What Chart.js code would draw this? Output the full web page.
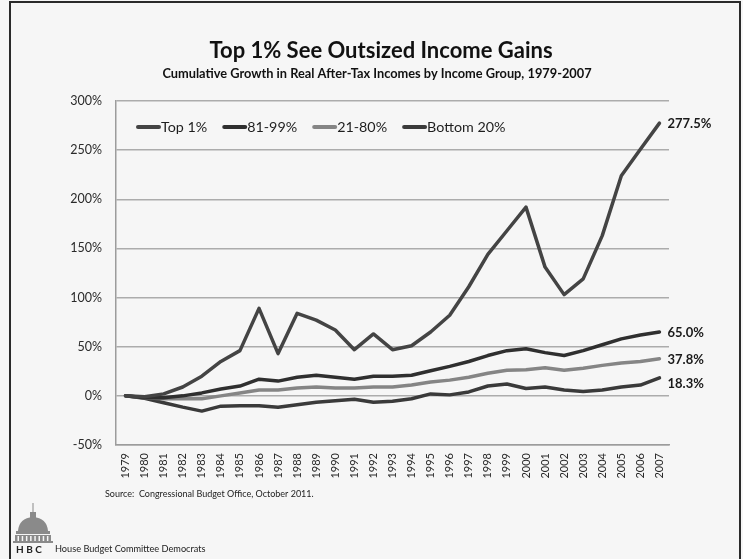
<!DOCTYPE html>
<html>
<head>
<meta charset="utf-8">
<script src="https://cdn.jsdelivr.net/npm/chart.js@4/dist/chart.umd.min.js"></script>
<style>
  html, body { margin: 0; padding: 0; background: #f6f6f6; }
  #wrap { width: 743px; height: 559px; position: relative; }
</style>
</head>
<body>
<div id="wrap"><canvas id="chart" width="743" height="559"></canvas></div>
<script>
// Cumulative growth in real after-tax income, percent since 1979
const years = ['1979','1980','1981','1982','1983','1984','1985','1986','1987','1988',
  '1989','1990','1991','1992','1993','1994','1995','1996','1997','1998',
  '1999','2000','2001','2002','2003','2004','2005','2006','2007'];

const top1 = [0, -1, 2, 9, 20, 35, 46, 89, 43, 84,
  77, 67, 47, 63, 47, 51, 65, 82, 111, 144,
  168, 192, 131, 103, 119, 163, 224, 251, 277.5];

const pct81to99 = [0, -2, -2, 0, 3, 7, 10, 17, 15, 19,
  21, 19, 17, 20, 20, 21, 25.5, 30, 35, 41,
  46, 48, 44, 41, 46, 52, 58, 62, 65.0];

const pct21to80 = [0, -2, -3, -3, -3, 0, 3, 6, 6, 8,
  9, 8, 8, 9, 9, 11, 14, 16, 19, 23,
  26, 26.5, 28.5, 26, 28, 31, 33.5, 35, 37.8];

const bottom20 = [0, -2.5, -7, -11.5, -15.5, -10.5, -10, -10, -11.5, -9,
  -6.5, -5, -3.5, -6.5, -5.5, -3, 2, 1, 4, 10,
  12, 7.5, 9, 6, 4.5, 6, 9, 11, 18.3];

const seriesNames = ['Top 1%', '81-99%', '21-80%', 'Bottom 20%'];
const yTickMin = -50, yTickMax = 300, yTickStep = 50;

const titleText = 'Top 1% See Outsized Income Gains';
const subtitleText = 'Cumulative Growth in Real After-Tax Incomes by Income Group, 1979-2007';
const sourceText = 'Source:  Congressional Budget Office, October 2011.';
const orgText = 'House Budget Committee Democrats';

const FONT = 'Lato, "Open Sans", "Liberation Sans", sans-serif';

// Page furniture: background, frame, titles, source line and logo
const decorations = {
  id: 'decorations',
  beforeDraw(chart) {
    const ctx = chart.ctx;
    ctx.save();
    ctx.fillStyle = '#f6f6f6';
    ctx.fillRect(0, 0, chart.width, chart.height);

    // frame
    ctx.strokeStyle = '#2a2a2a';
    ctx.lineWidth = 2;
    ctx.beginPath();
    ctx.moveTo(10, 559); ctx.lineTo(10, 2); ctx.lineTo(740, 2); ctx.lineTo(740, 559);
    ctx.stroke();

    ctx.fillStyle = '#111';
    ctx.textAlign = 'center';
    ctx.textBaseline = 'middle';
    ctx.font = 'bold 22px ' + FONT;
    ctx.fillText(titleText, 381, 51);
    ctx.font = 'bold 12.8px ' + FONT;
    ctx.fillText(subtitleText, 377, 74);

    ctx.textAlign = 'left';
    ctx.fillStyle = '#222';
    ctx.font = '9px ' + FONT;
    ctx.fillText(sourceText, 105, 494);

    // capitol dome logo
    ctx.fillStyle = '#8a8a8a';
    ctx.strokeStyle = '#8a8a8a';
    ctx.lineWidth = 1;
    ctx.beginPath(); ctx.moveTo(33, 503); ctx.lineTo(33, 512); ctx.stroke();
    ctx.fillRect(30, 512, 6, 7);
    ctx.beginPath();
    ctx.moveTo(18, 531);
    ctx.quadraticCurveTo(19, 518, 33, 517);
    ctx.quadraticCurveTo(47, 518, 48, 531);
    ctx.closePath();
    ctx.fill();
    ctx.fillRect(16, 531, 34, 3);
    ctx.fillRect(15, 535, 36, 6);
    ctx.fillStyle = '#f6f6f6';
    for (let i = 0; i < 8; i++) ctx.fillRect(17.5 + i * 4.2, 536, 1.5, 5);
    ctx.fillStyle = '#8a8a8a';
    ctx.fillRect(13, 541, 40, 2);

    ctx.fillStyle = '#222';
    ctx.font = 'bold 10px ' + FONT;
    ctx.textBaseline = 'alphabetic';
    ctx.fillText('H B C', 16, 553);
    ctx.font = '9.2px ' + FONT;
    ctx.fillText(orgText, 55, 552);
    ctx.restore();
  }
};

// Legend inside the plot area and value labels at the line ends
const overlay = {
  id: 'overlay',
  afterDatasetsDraw(chart) {
    const ctx = chart.ctx;
    const area = chart.chartArea;
    ctx.save();

    // legend row
    ctx.font = '14.3px ' + FONT;
    ctx.textBaseline = 'middle';
    ctx.textAlign = 'left';
    let x = area.left + 22;
    const ly = 127;
    chart.data.datasets.forEach(ds => {
      ctx.strokeStyle = ds.borderColor;
      ctx.lineWidth = 4;
      ctx.lineCap = 'round';
      ctx.beginPath(); ctx.moveTo(x, ly); ctx.lineTo(x + 21, ly); ctx.stroke();
      x += 23;
      ctx.fillStyle = '#1e1e1e';
      ctx.fillText(ds.label, x, ly);
      x += ctx.measureText(ds.label).width + 17;
    });

    // end-of-line labels, nudged apart when they crowd each other
    ctx.font = 'bold 13px ' + FONT;
    const ends = chart.data.datasets.map((ds, i) => {
      const pts = chart.getDatasetMeta(i).data;
      const last = pts[pts.length - 1];
      return { x: last.x, y: last.y, v: ds.data[ds.data.length - 1] };
    }).sort((a, b) => a.y - b.y);
    let prev = -Infinity;
    ends.forEach(e => {
      const y = Math.max(e.y, prev + 24);
      prev = y;
      ctx.fillStyle = '#1a1a1a';
      ctx.fillText(e.v.toFixed(1) + '%', e.x + 8, y + 1);
    });
    ctx.restore();
  }
};

const lineStyle = (color) => ({
  borderColor: color,
  backgroundColor: color,
  borderWidth: 3.5,
  pointRadius: 0,
  pointHoverRadius: 0,
  tension: 0,
  fill: false,
  borderCapStyle: 'round',
  borderJoinStyle: 'round'
});

new Chart(document.getElementById('chart'), {
  type: 'line',
  data: {
    labels: years,
    datasets: [
      { label: seriesNames[0], data: top1, ...lineStyle('#444444') },
      { label: seriesNames[1], data: pct81to99, ...lineStyle('#2f2f2f') },
      { label: seriesNames[2], data: pct21to80, ...lineStyle('#858585') },
      { label: seriesNames[3], data: bottom20, ...lineStyle('#3a3a3a') }
    ]
  },
  options: {
    responsive: false,
    animation: false,
    devicePixelRatio: 1,
    layout: { padding: { top: 101, right: 74, left: 0, bottom: 0 } },
    plugins: {
      legend: { display: false },
      title: { display: false },
      tooltip: { enabled: false }
    },
    scales: {
      x: {
        type: 'category',
        offset: true,
        grid: { display: false, drawTicks: false },
        border: { display: true, color: '#9c9c9c', width: 1.5 },
        ticks: {
          autoSkip: false,
          minRotation: 90,
          maxRotation: 90,
          padding: 8,
          color: '#2a2a2a',
          font: { family: FONT, size: 11 }
        },
        afterFit(scale) { scale.height = 114; }
      },
      y: {
        min: yTickMin,
        max: yTickMax,
        grid: { color: '#acacac', lineWidth: 1.5, drawTicks: false },
        border: { display: true, color: '#9c9c9c', width: 1.5 },
        ticks: {
          stepSize: yTickStep,
          padding: 14,
          color: '#2a2a2a',
          font: { family: FONT, size: 12.5 },
          callback: v => v + '%'
        },
        afterFit(scale) { scale.width = 116; }
      }
    }
  },
  plugins: [decorations, overlay]
});
</script>
</body>
</html>
